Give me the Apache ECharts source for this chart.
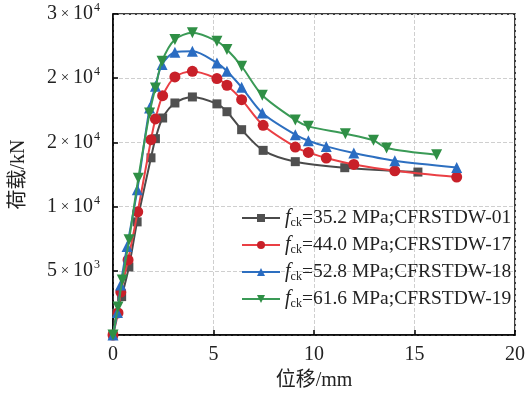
<!DOCTYPE html>
<html>
<head>
<meta charset="utf-8">
<script src="https://cdn.jsdelivr.net/npm/echarts@6/dist/echarts.min.js"></script>
<style>
  html, body { margin: 0; padding: 0; background: #fff; }
  #chart { width: 528px; height: 396px; }
</style>
</head>
<body>
<div id="chart"></div>
<script>
// 荷载-位移 data: [位移 mm, 荷载 kN]
var s01 = [[0,0],[0.18,1690],[0.43,2990],[0.79,5300],[1.20,8810],[1.89,13800],[2.11,15290],[2.47,16900],
  [3.08,18070],[3.95,18540],[5.17,18000],[5.67,17390],[6.40,15990],[7.47,14380],[9.07,13500],[11.53,13030],[15.17,12690]];
var s17 = [[0,0],[0.25,1720],[0.39,3350],[0.75,5850],[1.23,9590],[1.89,15210],[2.11,16830],[2.47,18640],
  [3.08,20100],[3.95,20540],[5.17,19970],[5.67,19450],[6.40,18330],[7.47,16330],[9.07,14640],[9.72,14220],
  [10.61,13780],[11.98,13280],[14.02,12790],[17.10,12300]];
var s18 = [[0,0],[0.22,1760],[0.38,3900],[0.70,6890],[1.21,11310],[1.82,17680],[2.11,19370],[2.44,21060],
  [3.08,22020],[3.95,22100],[5.17,21190],[5.67,20540],[6.40,19290],[7.43,17290],[9.07,15600],[9.72,15130],
  [10.61,14690],[11.98,14170],[14.02,13570],[17.10,13050]];
var s19 = [[0,0],[0.25,2180],[0.46,4290],[0.80,7410],[1.26,12210],[1.82,17290],[2.11,19240],[2.44,21320],
  [3.08,23010],[3.95,23530],[5.17,22880],[5.67,22230],[6.40,20930],[7.43,18670],[9.07,16750],[9.72,16250],
  [11.56,15680],[12.96,15160],[13.61,14560],[16.10,14040]];

var names = ['35.2 MPa;CFRSTDW-01', '44.0 MPa;CFRSTDW-17', '52.8 MPa;CFRSTDW-18', '61.6 MPa;CFRSTDW-19'];
var lineColors = ['#4a4a4a', '#ea3f44', '#2d6fc0', '#3a9a56'];
var markColors = ['#505050', '#c82029', '#2a6cc2', '#2f8f45'];
var symbols = ['rect', 'circle', 'triangle', 'triangle'];
var symRot = [0, 0, 0, 180];
var symSize = [9, 11, 11, 11];
var allData = [s01, s17, s18, s19];

var FONT = 'Liberation Serif, "Noto Sans CJK SC"';

// y labels written as m × 10^e, rounded to one figure like the original
function fmtY(v) {
  if (v === 0) return '';
  var e = Math.floor(Math.log10(v));
  var m = Math.round(v / Math.pow(10, e));
  if (m === 10) { m = 1; e++; }
  return '{a|' + m + '}{x| × }{a|10}{e|' + e + '}';
}

var chart = echarts.init(document.getElementById('chart'));
var series = [];
for (var i = 0; i < allData.length; i++) {
  series.push({
    name: names[i],
    type: 'line',
    data: allData[i],
    smooth: 0.3,
    symbol: symbols[i],
    symbolRotate: symRot[i],
    symbolSize: symSize[i],
    lineStyle: { color: lineColors[i], width: 2 },
    itemStyle: { color: markColors[i] },
    z: 2 + i
  });
}

chart.setOption({
  animation: false,
  textStyle: { fontFamily: FONT },
  grid: {
    left: 113, right: 7, top: 14, bottom: 61,
    show: true, borderColor: '#000', borderWidth: 1.5
  },
  legend: {
    orient: 'vertical',
    left: 236, top: 202,
    itemWidth: 38, itemHeight: 10, itemGap: 5,
    data: names,
    formatter: function (n) { return '{f|f}{s|ck}{t|=' + n + '}'; },
    textStyle: {
      fontFamily: FONT, color: '#222', fontSize: 20, lineHeight: 22,
      rich: {
        f: { fontFamily: FONT, fontStyle: 'italic', fontSize: 20, color: '#222' },
        s: { fontFamily: FONT, fontSize: 12, color: '#222', padding: [10, 0, 0, 0] },
        t: { fontFamily: FONT, fontSize: 19.5, color: '#222' }
      }
    }
  },
  xAxis: {
    type: 'value', min: 0, max: 20, interval: 5,
    name: '位移/mm', nameLocation: 'middle', nameGap: 36,
    nameTextStyle: { fontFamily: FONT, fontSize: 20, color: '#222' },
    axisLine: { show: true, onZero: false, lineStyle: { color: '#000', width: 1.5 } },
    axisTick: { show: true, inside: true, length: 5, lineStyle: { color: '#000', width: 1.5 } },
    axisLabel: { fontFamily: FONT, fontSize: 20, color: '#222', margin: 10 },
    splitLine: { show: true, lineStyle: { color: '#cfcfcf', type: 'dashed', width: 1 } }
  },
  yAxis: {
    type: 'value', min: 0, max: 25000, interval: 5000,
    name: '荷载/kN', nameLocation: 'middle', nameGap: 84, nameRotate: 90,
    nameTextStyle: { fontFamily: FONT, fontSize: 20, color: '#222' },
    axisLine: { show: true, lineStyle: { color: '#000', width: 1.5 } },
    axisTick: { show: true, inside: true, length: 5, lineStyle: { color: '#000', width: 1.5 } },
    axisLabel: {
      margin: 13, formatter: fmtY,
      rich: {
        a: { fontFamily: FONT, fontSize: 20, color: '#222' },
        x: { fontFamily: FONT, fontSize: 15, color: '#222' },
        e: { fontFamily: FONT, fontSize: 12, color: '#222', padding: [0, 0, 12, 1] }
      }
    },
    splitLine: { show: true, lineStyle: { color: '#cfcfcf', type: 'dashed', width: 1 } }
  },
  series: series
});
</script>
</body>
</html>
